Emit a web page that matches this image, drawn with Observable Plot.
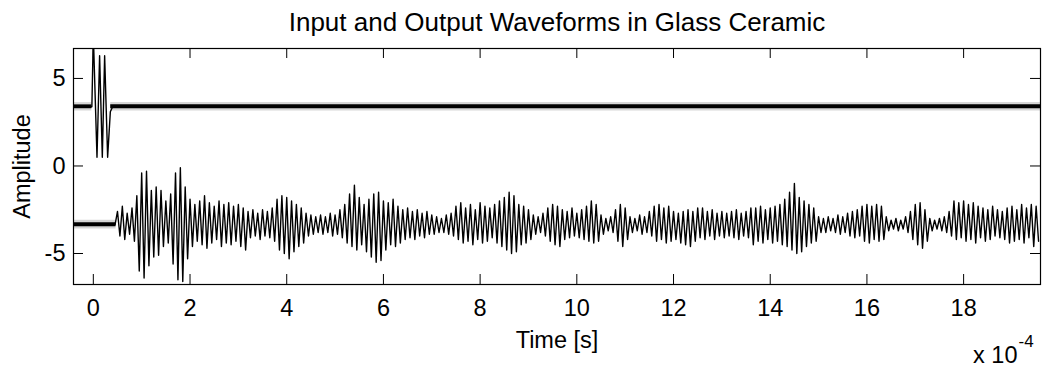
<!DOCTYPE html>
<html><head><meta charset="utf-8">
<script src="https://cdn.jsdelivr.net/npm/d3@7"></script>
<script src="https://cdn.jsdelivr.net/npm/@observablehq/plot@0.6"></script>
<style>html,body{margin:0;padding:0;background:#fff}#chart svg{display:block}</style>
</head><body><div id="chart"></div>
<script>
const title = "Input and Output Waveforms in Glass Ceramic";
const xLabel = "Time [s]";
const yLabel = "Amplitude";
const xExpBase = "x 10";
const xExp = "-4";
const xTicks = [0,2,4,6,8,10,12,14,16,18];
const yTicks = [-5,0,5];

// time in units of 1e-4 s
// input (transmitted) waveform: burst nodes
const inputT = [-0.41,-0.03,0.0,0.076,0.13,0.186,0.234,0.296,0.352,0.40,19.59];
const inputV = [3.38,3.38,7.5,0.5,6.3,0.5,6.3,0.5,3.1,3.38,3.38];

// baseline noise bands (segment, time, low, high)
const noiseSeg = ["a","a","b","b","c","c"];
const noiseT   = [-0.41,-0.03,0.36,19.59,-0.41,0.47];
const noiseLo  = [3.27,3.27,3.27,3.27,-3.47,-3.47];
const noiseHi  = [3.49,3.49,3.49,3.49,-3.24,-3.24];
const fuzzLo   = [3.14,3.14,3.14,3.14,-3.6,-3.6];
const fuzzHi   = [3.62,3.62,3.62,3.62,-3.1,-3.1];

// output (received) waveform: quiet baseline, then per-cycle peak / trough values
const outBaseT = [-0.41,0.45];
const outBaseV = [-3.35,-3.35];
const outStart = 0.5, outStep = 0.1;
const outHi = [
-2.6,-2.3,-2.7,-2.4,-1.7,-0.4,-0.3,-1.4,-1.2,-1.4,
-2.0,-1.6,-0.4,-0.1,-1.2,-1.9,-2.2,-2.0,-1.7,-2.1,
-2.3,-2.0,-2.2,-2.1,-2.3,-2.2,-2.4,-2.6,-2.5,-2.7,
-2.5,-2.6,-2.4,-1.9,-1.7,-1.8,-2.0,-2.2,-2.4,-2.7,
-2.8,-2.9,-2.8,-2.9,-2.7,-2.8,-2.5,-2.2,-1.6,-1.1,
-1.8,-2.2,-1.9,-1.6,-1.5,-2.0,-2.1,-1.9,-2.3,-2.5,
-2.4,-2.6,-2.5,-2.7,-2.6,-2.8,-2.9,-3.0,-2.8,-2.7,
-2.3,-2.1,-2.4,-2.2,-2.5,-2.1,-2.3,-2.4,-2.2,-2.0,
-1.8,-1.5,-1.7,-2.2,-2.3,-2.5,-2.8,-2.9,-2.7,-2.4,
-2.2,-2.3,-2.5,-2.6,-2.4,-2.7,-2.5,-2.3,-2.0,-2.2,
-2.8,-3.0,-2.9,-2.5,-2.2,-2.4,-2.9,-3.0,-2.8,-2.9,
-2.6,-2.3,-2.2,-2.4,-2.3,-2.6,-2.7,-2.6,-2.5,-2.6,
-2.4,-2.4,-2.6,-2.5,-2.7,-2.6,-2.7,-2.6,-2.5,-2.7,
-2.6,-2.4,-2.4,-2.3,-2.5,-2.4,-2.3,-2.2,-1.9,-1.5,
-1.0,-1.8,-2.0,-2.2,-2.4,-2.9,-3.0,-2.9,-3.0,-2.8,
-2.9,-2.7,-2.6,-2.5,-2.3,-2.2,-2.3,-2.2,-2.3,-2.9,
-3.1,-3.0,-3.1,-2.9,-2.6,-2.2,-2.1,-2.5,-3.0,-3.1,
-3.0,-2.9,-2.6,-2.0,-2.1,-2.0,-2.2,-2.1,-2.3,-2.4,
-2.5,-2.3,-2.5,-2.6,-2.4,-2.3,-2.5,-2.2,-2.4,-2.2,-2.3];
const outLo = [
-4.0,-4.2,-3.9,-4.3,-6.0,-6.4,-5.7,-5.2,-5.1,-4.6,
-4.4,-5.6,-6.5,-6.6,-5.3,-4.6,-4.3,-4.5,-4.7,-4.4,
-4.2,-4.6,-4.4,-4.5,-4.3,-4.6,-4.8,-4.1,-4.0,-4.2,
-4.0,-4.1,-4.3,-4.8,-5.0,-5.3,-4.9,-4.6,-4.4,-4.0,
-3.9,-3.8,-3.9,-3.8,-4.0,-3.9,-4.1,-4.4,-4.6,-4.8,
-4.5,-4.9,-5.2,-5.5,-5.4,-4.8,-4.5,-4.6,-4.4,-4.2,
-4.1,-4.2,-4.0,-4.1,-3.9,-3.9,-3.8,-3.8,-3.9,-4.0,
-4.2,-4.4,-4.3,-4.5,-4.2,-4.4,-4.3,-4.1,-4.4,-4.6,
-4.8,-5.0,-4.9,-4.5,-4.4,-4.2,-3.9,-3.8,-4.0,-4.3,
-4.5,-4.6,-4.2,-4.1,-4.0,-4.1,-4.2,-4.3,-4.4,-4.3,
-3.9,-3.7,-3.8,-4.3,-4.6,-4.2,-3.8,-3.7,-3.9,-3.8,
-4.0,-4.3,-4.2,-4.4,-4.3,-4.2,-4.4,-4.5,-4.6,-4.3,
-4.1,-4.2,-4.0,-4.2,-4.0,-4.1,-4.0,-4.1,-4.2,-4.0,
-4.1,-4.5,-4.3,-4.4,-4.2,-4.4,-4.3,-4.5,-4.6,-4.8,
-5.0,-4.9,-4.6,-4.4,-4.3,-3.8,-3.8,-3.7,-3.8,-3.9,
-3.8,-4.0,-4.1,-4.0,-4.3,-4.4,-4.2,-4.3,-4.2,-3.7,
-3.6,-3.7,-3.6,-3.8,-4.2,-4.5,-4.7,-4.3,-3.7,-3.6,
-3.7,-3.8,-4.0,-4.2,-4.1,-4.3,-4.2,-4.4,-4.1,-4.3,
-4.2,-4.0,-4.1,-4.2,-4.4,-4.3,-4.2,-4.4,-4.1,-4.6,-4.3];

// build tables
const inputData = inputT.map((t,i)=>({t, v: inputV[i]}));
const noiseData = noiseT.map((t,i)=>({seg: noiseSeg[i], t, lo: noiseLo[i], hi: noiseHi[i], flo: fuzzLo[i], fhi: fuzzHi[i]}));
const outputData = outBaseT.map((t,i)=>({t, v: outBaseV[i]}));
outHi.forEach((h,i)=>{
  const t = outStart + i*outStep;
  outputData.push({t, v: h});
  outputData.push({t: t + outStep/2, v: outLo[i]});
});

const W = 1043, H = 369, mT = 48, mB = 85, mL = 73, mR = 3;
const plotW = W - mL - mR, plotH = H - mT - mB, tickLen = 10;
const FONT = "Liberation Sans, Arial, Helvetica, sans-serif";

const chart = Plot.plot({
  width: W, height: H,
  marginTop: mT, marginBottom: mB, marginLeft: mL, marginRight: mR,
  x: {domain: [-0.41, 19.59], axis: null},
  y: {domain: [-6.77, 6.71], axis: null},
  style: {fontFamily: FONT, background: "#fff", color: "#000"},
  marks: [
    Plot.areaY(noiseData, {x: "t", y1: "flo", y2: "fhi", z: "seg", fill: "#777", fillOpacity: 0.3, curve: "linear"}),
    Plot.areaY(noiseData, {x: "t", y1: "lo", y2: "hi", z: "seg", fill: "#000", curve: "linear"}),
    Plot.line(outputData, {x: "t", y: "v", stroke: "#000", strokeWidth: 1.4, clip: true}),
    Plot.line(inputData, {x: "t", y: "v", stroke: "#000", strokeWidth: 1.4, clip: true}),
    Plot.frame({stroke: "#000", strokeWidth: 1.2}),
    Plot.tickX(xTicks, {x: d=>d, insetTop: plotH - tickLen, stroke: "#000"}),
    Plot.tickX(xTicks, {x: d=>d, insetBottom: plotH - tickLen, stroke: "#000"}),
    Plot.tickY(yTicks, {y: d=>d, insetRight: plotW - tickLen, stroke: "#000"}),
    Plot.tickY(yTicks, {y: d=>d, insetLeft: plotW - tickLen, stroke: "#000"}),
    Plot.axisX(xTicks, {tickSize: 0, tickPadding: 15, fontSize: 23.5, label: null, fontFamily: FONT}),
    Plot.axisY(yTicks, {tickSize: 0, tickPadding: 8, fontSize: 23.5, label: null, fontFamily: FONT, tickFormat: d => d < 0 ? "-" + Math.abs(d) : String(d)}),
    Plot.text([title], {text: d=>d, frameAnchor: "top", lineAnchor: "middle", textAnchor: "middle", dy: -25.5, fontSize: 26, fill: "#000"}),
    Plot.text([xLabel], {text: d=>d, frameAnchor: "bottom", lineAnchor: "middle", textAnchor: "middle", dy: 56, fontSize: 23.5, fill: "#000"}),
    Plot.text([yLabel], {text: d=>d, frameAnchor: "left", lineAnchor: "middle", textAnchor: "middle", rotate: -90, dx: -51, fontSize: 23.5, fill: "#000"}),
    Plot.text([xExpBase], {text: d=>d, frameAnchor: "bottom-right", lineAnchor: "middle", textAnchor: "end", dx: -23, dy: 71, fontSize: 23.5, fill: "#000"}),
    Plot.text([xExp], {text: d=>d, frameAnchor: "bottom-right", lineAnchor: "middle", textAnchor: "start", dx: -22, dy: 57.5, fontSize: 17, fill: "#000"})
  ]
});
document.getElementById("chart").appendChild(chart);
</script>
</body></html>
